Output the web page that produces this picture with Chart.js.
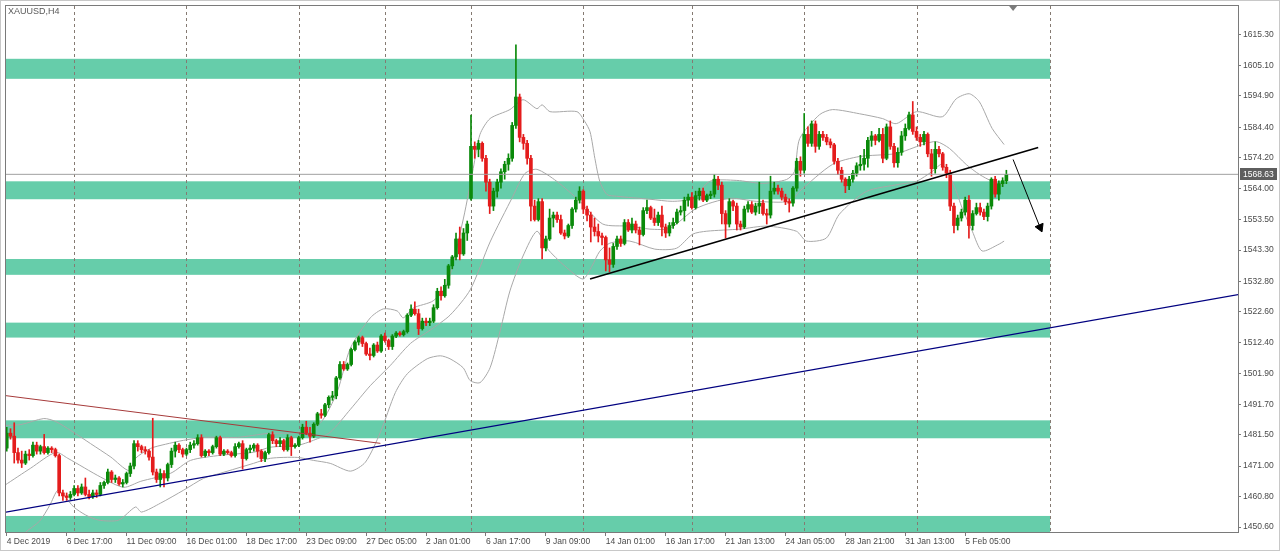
<!DOCTYPE html>
<html>
<head>
<meta charset="utf-8">
<title>XAUUSD,H4</title>
<script src="https://cdn.jsdelivr.net/npm/chart.js@4.4.1/dist/chart.umd.min.js"></script>
<style>
    html, body { margin: 0; padding: 0; background: #ffffff; overflow: hidden; }
    #chart { display: block; }
</style>
</head>
<body>
<canvas id="chart" width="1280" height="551"></canvas>
<script>
// H4 candles, one entry per bar (bar 0 = 4 Dec 2019)
const opens = [
    1477, 1482, 1481, 1475.5, 1473, 1472, 1475, 1474.5, 1478, 1476,
    1477.5, 1475.5, 1477, 1476.5, 1474.5, 1462, 1461, 1460.5, 1461.5, 1463.5,
    1462, 1464, 1461.5, 1460.8, 1462, 1461.5, 1464.5, 1465.5, 1469, 1466.5,
    1467, 1465, 1465.5, 1468.5, 1471, 1478.5, 1477.5, 1476.5, 1476, 1474,
    1469, 1466.5, 1468.5, 1467, 1471.5, 1476, 1478, 1476.5, 1475, 1476.5,
    1478, 1478.5, 1480.5, 1474.5, 1476, 1475.5, 1477.5, 1480.5, 1475, 1476,
    1475.5, 1474.5, 1477.5, 1478.5, 1473.5, 1476.5, 1477, 1478, 1476, 1473.5,
    1475.5, 1481.5, 1479.5, 1478.5, 1479.5, 1476.5, 1480.5, 1477.5, 1478, 1480.5,
    1484, 1482, 1481, 1485, 1488.5, 1488, 1491.5, 1494, 1494.5, 1500.5,
    1505, 1503.5, 1505, 1510, 1512.5, 1514, 1512, 1508.5, 1508, 1511.5,
    1509.5, 1514.5, 1513, 1511, 1514.5, 1515.5, 1515, 1516, 1521.5, 1523.5,
    1522, 1517, 1519.5, 1519, 1519.5, 1524, 1529.5, 1528, 1531.5, 1538,
    1541, 1547, 1542, 1549, 1560.6, 1578, 1577, 1579, 1574, 1566,
    1558, 1563, 1566, 1569.5, 1572, 1574, 1585, 1594.5, 1581, 1579,
    1574, 1558, 1553.5, 1559.5, 1544, 1547, 1554, 1555, 1553.5, 1549,
    1548, 1551.5, 1557, 1560, 1563, 1557, 1555, 1551, 1549.5, 1548,
    1547.5, 1540, 1538.5, 1544.5, 1547, 1545.5, 1552.5, 1550, 1552, 1550,
    1548.5, 1556.5, 1557.5, 1554, 1552.5, 1555, 1551, 1549, 1551.5, 1552.5,
    1556, 1556.5, 1560, 1561, 1557.5, 1561.5, 1563, 1560, 1561.5, 1562,
    1567, 1565, 1555.5, 1552, 1559.5, 1558, 1552, 1551, 1557, 1558.5,
    1556, 1558, 1559, 1555.5, 1555, 1563, 1564, 1563, 1561, 1559.5,
    1559, 1564, 1573, 1570, 1582, 1579, 1585.5, 1578, 1582, 1581,
    1579.5, 1578.5, 1573, 1570, 1567, 1564.8, 1567, 1569, 1571.5, 1572,
    1574, 1580, 1581.5, 1580, 1582, 1574, 1584.5, 1578, 1572.5, 1576,
    1581.5, 1584, 1588.5, 1583, 1581, 1579.5, 1582, 1575.5, 1570.5, 1577,
    1575.5, 1571, 1569, 1558, 1551.5, 1554, 1556, 1560, 1551.5, 1555.5,
    1557.5, 1556, 1554.5, 1558, 1567, 1562, 1565.5, 1566.5
];
const highs = [
    1484, 1483.5, 1485.5, 1477, 1476, 1476, 1476.5, 1479, 1479, 1478,
    1481.6, 1477.5, 1477.5, 1477, 1475, 1463, 1462, 1462.5, 1464.5, 1464.5,
    1465, 1467, 1463, 1463, 1463, 1465.5, 1466, 1470, 1469.5, 1468,
    1467.5, 1466.5, 1469, 1472, 1479.5, 1479.5, 1478, 1477.5, 1476.5, 1487,
    1470, 1470, 1469.5, 1472, 1477, 1479, 1478.5, 1477, 1477, 1479,
    1479.5, 1481.5, 1481.5, 1476.5, 1476.5, 1478, 1481, 1481, 1476.5, 1476.5,
    1476, 1478.5, 1479, 1479.5, 1477, 1478, 1478.5, 1478.5, 1476.5, 1476,
    1482, 1482.5, 1480, 1480.5, 1480, 1481.5, 1481, 1478.5, 1481, 1485,
    1486, 1484, 1485.5, 1489, 1490, 1492, 1494.5, 1496, 1501, 1506,
    1506, 1505.5, 1510.5, 1513, 1514.5, 1514.5, 1512.5, 1510.5, 1512, 1512.5,
    1515, 1515.5, 1513.5, 1515, 1516, 1516, 1516.5, 1522, 1525, 1526,
    1523.5, 1520.5, 1520.5, 1520.5, 1525, 1530.5, 1531, 1533.5, 1538.5, 1541.5,
    1549, 1551, 1550.5, 1553, 1588.5, 1579.5, 1580, 1579.5, 1575, 1567,
    1564, 1567, 1570.5, 1573, 1575.5, 1586, 1612, 1595.5, 1582, 1580,
    1575, 1560, 1560.5, 1560.5, 1548, 1557, 1556, 1556, 1555, 1550,
    1552, 1557.5, 1561, 1564.5, 1563.5, 1558, 1556, 1554, 1552, 1549,
    1548, 1544, 1545.5, 1548, 1548, 1553.5, 1553.5, 1554, 1553, 1551,
    1557.5, 1560, 1558, 1557, 1556, 1558, 1552, 1552.5, 1554, 1557,
    1558, 1561, 1562, 1562.5, 1563, 1564, 1564, 1562, 1563, 1568.6,
    1568, 1566, 1556.5, 1560.5, 1560, 1559, 1553, 1558, 1559.5, 1559.5,
    1559, 1566, 1560, 1557, 1568, 1566, 1565, 1564, 1562, 1560.5,
    1564.5, 1574, 1574.5, 1589, 1584.5, 1586.5, 1586.5, 1583, 1583, 1582,
    1580.5, 1579, 1574, 1571, 1567.5, 1568, 1570, 1572.5, 1575, 1577,
    1581, 1583, 1582, 1584, 1584, 1585.5, 1586.5, 1579, 1577.5, 1583,
    1585.5, 1589.5, 1593, 1584.5, 1582, 1583, 1582.5, 1577, 1579.5, 1578,
    1576, 1572, 1570, 1559, 1555, 1557, 1561, 1561.5, 1556.5, 1559,
    1559, 1557, 1559, 1567.5, 1568, 1566.5, 1567.5, 1570
];
const lows = [
    1476, 1480, 1472, 1472, 1470.5, 1471.5, 1473, 1474, 1475, 1475,
    1475, 1475, 1475.5, 1474, 1461, 1459.5, 1459.5, 1459.8, 1461, 1461,
    1461.5, 1461, 1460, 1460.2, 1460.5, 1461, 1463.5, 1465, 1465.5, 1465.5,
    1464.5, 1464, 1465, 1467.5, 1470, 1476, 1475.5, 1475, 1473, 1468,
    1465.5, 1464, 1464, 1466, 1470.5, 1474, 1475.5, 1474, 1474.5, 1475.5,
    1477, 1478, 1474, 1474, 1474.5, 1475, 1477, 1474.5, 1474.5, 1475,
    1474, 1474, 1477, 1470, 1473, 1475.5, 1476, 1474, 1472.5, 1472.5,
    1475, 1478.5, 1477.5, 1477.5, 1476, 1476, 1474.5, 1477, 1477.5, 1480,
    1481.5, 1479, 1480.5, 1484.5, 1487, 1487.5, 1490.5, 1493, 1493.5, 1500,
    1503, 1503, 1504.5, 1509.5, 1511.5, 1511, 1508, 1506.5, 1507.5, 1509,
    1509, 1512.5, 1510, 1510, 1514, 1514.5, 1514.5, 1515.5, 1521, 1521.5,
    1515, 1516.5, 1518, 1518, 1519, 1523.5, 1526.5, 1527.5, 1530.5, 1537,
    1540, 1540, 1541.5, 1546.5, 1560, 1574, 1574.5, 1573, 1563, 1555.5,
    1556.5, 1561, 1564, 1567, 1570, 1573, 1584, 1579.5, 1577, 1572,
    1553, 1553, 1553, 1540.3, 1543, 1546.5, 1551, 1552.5, 1548.5, 1547,
    1547.5, 1550.5, 1556, 1559, 1555.5, 1553, 1546, 1548, 1546, 1545,
    1536.3, 1536, 1537.5, 1543.5, 1544.5, 1545, 1549.5, 1549, 1549, 1545,
    1548, 1555.5, 1553.5, 1551.5, 1551.5, 1548, 1547.5, 1548, 1550.5, 1552,
    1555, 1553, 1558, 1557, 1557, 1560, 1559.5, 1559.5, 1560.5, 1561,
    1563.5, 1552, 1547.3, 1551, 1556.5, 1550, 1550, 1550.5, 1556, 1555.5,
    1555, 1555.5, 1555, 1552, 1554, 1562, 1562, 1560, 1558.5, 1556,
    1558, 1563, 1568, 1569, 1578, 1578, 1576, 1577, 1580, 1578.5,
    1577.5, 1572, 1568.5, 1566, 1562.5, 1563.5, 1566, 1568, 1570, 1570,
    1571, 1578, 1578.5, 1579.5, 1572.5, 1573.5, 1577, 1571, 1571, 1575,
    1580, 1583.5, 1582, 1580, 1578, 1578.5, 1574.5, 1568, 1569, 1574.5,
    1570, 1567.5, 1556.5, 1549, 1550, 1553, 1555, 1547.3, 1550, 1555,
    1555, 1553.5, 1553, 1557, 1561, 1560, 1564.5, 1565.5
];
const closes = [
    1482, 1481, 1475.5, 1473, 1472, 1475, 1474.5, 1478, 1476, 1477.5,
    1475.5, 1477, 1476.5, 1474.5, 1462, 1461, 1460.5, 1461.5, 1463.5, 1462,
    1464, 1461.5, 1460.8, 1462, 1461.5, 1464.5, 1465.5, 1469, 1466.5, 1467,
    1465, 1465.5, 1468.5, 1471, 1478.5, 1477.5, 1476.5, 1476, 1474, 1469,
    1466.5, 1468.5, 1467, 1471.5, 1476, 1478, 1476.5, 1475, 1476.5, 1478,
    1478.5, 1480.5, 1474.5, 1476, 1475.5, 1477.5, 1480.5, 1475, 1476, 1475.5,
    1474.5, 1477.5, 1478.5, 1473.5, 1476.5, 1477, 1478, 1476, 1473.5, 1475.5,
    1481.5, 1479.5, 1478.5, 1479.5, 1476.5, 1480.5, 1477.5, 1478, 1480.5, 1484,
    1482, 1481, 1485, 1488.5, 1488, 1491.5, 1494, 1494.5, 1500.5, 1505,
    1503.5, 1505, 1510, 1512.5, 1514, 1512, 1508.5, 1508, 1511.5, 1509.5,
    1514.5, 1513, 1511, 1514.5, 1515.5, 1515, 1516, 1521.5, 1523.5, 1522,
    1517, 1519.5, 1519, 1519.5, 1524, 1529.5, 1528, 1531.5, 1538, 1541,
    1547, 1542, 1549, 1552, 1578, 1577, 1579, 1574, 1566, 1558,
    1563, 1566, 1569.5, 1572, 1574, 1585, 1594.5, 1581, 1579, 1574,
    1558, 1553.5, 1559.5, 1544, 1547, 1554, 1555, 1553.5, 1549, 1548,
    1551.5, 1557, 1560, 1563, 1557, 1555, 1551, 1549.5, 1548, 1547.5,
    1540, 1538.5, 1544.5, 1547, 1545.5, 1552.5, 1550, 1552, 1550, 1548.5,
    1556.5, 1557.5, 1554, 1552.5, 1555, 1551, 1549, 1551.5, 1552.5, 1556,
    1556.5, 1560, 1561, 1557.5, 1561.5, 1563, 1560, 1561.5, 1562, 1567,
    1565, 1555.5, 1552, 1559.5, 1558, 1552, 1551, 1557, 1558.5, 1556,
    1558, 1559, 1555.5, 1555, 1563, 1564, 1563, 1561, 1559.5, 1559,
    1564, 1573, 1570, 1582, 1579, 1585.5, 1578, 1582, 1581, 1579.5,
    1578.5, 1573, 1570, 1567, 1564.8, 1567, 1569, 1571.5, 1572, 1574,
    1580, 1581.5, 1580, 1582, 1574, 1584.5, 1578, 1572.5, 1576, 1581.5,
    1584, 1588.5, 1583, 1581, 1579.5, 1582, 1575.5, 1570.5, 1577, 1575.5,
    1571, 1569, 1558, 1551.5, 1554, 1556, 1560, 1551.5, 1555.5, 1557.5,
    1556, 1554.5, 1558, 1567, 1562, 1565.5, 1566.5, 1568.63
];

// bottom axis labels and the bar they sit on
const timeLabels = ['4 Dec 2019', '6 Dec 17:00', '11 Dec 09:00', '16 Dec 01:00', '18 Dec 17:00',
    '23 Dec 09:00', '27 Dec 05:00', '2 Jan 01:00', '6 Jan 17:00', '9 Jan 09:00', '14 Jan 01:00',
    '16 Jan 17:00', '21 Jan 13:00', '24 Jan 05:00', '28 Jan 21:00', '31 Jan 13:00', '5 Feb 05:00'];
const labelBars = [0, 16, 32, 48, 64, 80, 96, 112, 128, 144, 160, 176, 192, 208, 224, 240, 256];

const priceTicks = [1615.30, 1605.10, 1594.90, 1584.40, 1574.20, 1564.00, 1553.50, 1543.30, 1532.80,
    1522.60, 1512.40, 1501.90, 1491.70, 1481.50, 1471.00, 1460.80, 1450.60];

// Bollinger bands, [bar, price]
const upperBand = [[-0.5, 1484.6], [3.8, 1484.9], [9.9, 1486.9], [13.1, 1485.9], [17.1, 1482.9],
    [22.4, 1478.5], [27.8, 1474], [32.6, 1469.5], [34.4, 1473.6], [38.4, 1476.9], [42.4, 1478.3],
    [47.2, 1479.6], [52.6, 1480.6], [61.6, 1480.6], [69.6, 1481.9], [77.6, 1482.3], [83.8, 1485.5],
    [88.3, 1496], [91.8, 1510.5], [97.1, 1520.6], [100.6, 1523.6], [104.3, 1522.9], [105.9, 1520.6],
    [108.6, 1523.9], [113.9, 1526.3], [117.6, 1531.9], [122, 1554], [124.6, 1570.6], [126.4, 1582],
    [129.1, 1587.3], [134.4, 1590.3], [137.9, 1593.6], [141.6, 1590.6], [143, 1591.9], [145.1, 1589.6],
    [152.3, 1589.6], [154.4, 1586.3], [155.8, 1582.9], [157.1, 1573.9], [158.4, 1566.3], [160.3, 1561.9],
    [162.9, 1561.3], [171.8, 1560.3], [177.9, 1559.6], [183.2, 1560.6], [187.8, 1566.3], [195, 1566.6],
    [201.9, 1565.6], [208.3, 1566.9], [210.4, 1569.6], [211.8, 1580.6], [217.1, 1588.6], [220.6, 1590.3],
    [227.8, 1588.9], [233.9, 1587.3], [237.6, 1585.6], [243, 1589.6], [249.9, 1587.9], [253.6, 1593.9],
    [257.1, 1595.6], [259.8, 1592.9], [263.2, 1584], [266.4, 1578.6]];
const middleBand = [[-0.5, 1464.6], [6.4, 1470.3], [13.1, 1475.6], [16.3, 1473.6], [25.1, 1467.3],
    [31.2, 1463.9], [35.8, 1465.9], [43.8, 1468.6], [49.1, 1472.9], [57.1, 1474.6], [65.9, 1475.6],
    [70.4, 1477.3], [77.6, 1477.9], [81.9, 1479.6], [86.4, 1482.3], [91.8, 1490], [97.1, 1497.9],
    [102.4, 1504.6], [107.8, 1512], [113.1, 1516.5], [118.4, 1521.5], [123.8, 1530], [129.1, 1546],
    [135.2, 1561.3], [138.4, 1568.9], [141.6, 1570.3], [146.9, 1566.3], [153.1, 1559.6], [159.2, 1552],
    [166.4, 1551.3], [171.8, 1550.3], [177.1, 1550.6], [184.3, 1557.3], [193.1, 1560.6], [200.3, 1559.6],
    [209.1, 1559.6], [211.8, 1563], [220.6, 1572], [227.8, 1574.6], [237.6, 1575.6], [244.6, 1578.6],
    [248.3, 1579.6], [251.8, 1577.3], [256.3, 1571.9], [259.8, 1568.6], [263.2, 1566.3], [266.4, 1565]];
const lowerBand = [[3.8, 1446.3], [4.8, 1448.6], [8.8, 1452.6], [11.5, 1457.9], [13.6, 1462.9],
    [15.2, 1461.3], [17.9, 1457.3], [21.1, 1454.6], [24.6, 1452.9], [29.9, 1452.9], [34.4, 1457.3],
    [36, 1455.6], [41.1, 1458.6], [47.2, 1462.9], [52.6, 1466.9], [57.1, 1468.6], [65.9, 1471.9],
    [70.4, 1473.6], [77.6, 1473.9], [81.9, 1472.9], [86.4, 1471.9], [91.8, 1469.3], [95.8, 1472.3],
    [99.8, 1482.3], [103.8, 1495.6], [107, 1501.9], [112.3, 1506.9], [115.8, 1507.9], [118.4, 1506.9],
    [121.9, 1503.9], [123.8, 1499.6], [126.4, 1498.9], [129.1, 1503.9], [131.8, 1516.3], [134.4, 1529.6],
    [137.9, 1541.3], [141.6, 1549.6], [144.3, 1543.9], [149.1, 1537.9], [153.9, 1533.6], [156.3, 1537.9],
    [158.4, 1542.9], [161.1, 1545.6], [166.4, 1546.3], [173.1, 1543.6], [178.9, 1543.9], [183.2, 1548.6],
    [187, 1549.6], [195.8, 1550.3], [203, 1551.3], [210.9, 1549.6], [213.6, 1546.3], [218.9, 1547.3],
    [222.4, 1555.3], [229.6, 1562.9], [238.4, 1565.3], [243, 1566.3], [247.2, 1569.6], [249.9, 1572],
    [253.1, 1564.6], [255.2, 1557.3], [257.9, 1549.6], [260.5, 1543], [265.1, 1545.3], [266.4, 1546.3]];

// drawn objects
const redLine = [[-0.5, 1494.6], [99.8, 1478.6]];
const navyLine = [[-0.5, 1455.5], [329, 1528.4]];
const blackLine = [[155.8, 1533.6], [275.5, 1577.6]];
const arrowLine = [[268.8, 1573.6], [276.0, 1550.9]];
const zoneTops = [1607.3, 1566.3, 1540.3, 1519.0, 1486.3, 1454.3];
const zoneBottoms = [1600.6, 1560.3, 1535.0, 1514.0, 1480.3, 1448.9];
const zoneEnd = 278.7;
const weekBars = [18, 48, 78, 101, 124, 154, 183, 213, 243];
const bidPrice = 1568.63;
const shiftMark = 268.8;

const xMin = -0.2;
const xMax = 328.87;
const yMin = 1448.93;
const yMax = 1624.97;

const FONT = "'Liberation Sans', Arial, sans-serif";
const upColor = '#0a8a0a';
const downColor = '#e41c1c';
const bandColor = '#a8a8a8';

const toPoints = arr => arr.map(p => ({x: p[0], y: p[1]}));
const candleColors = opens.map((o, i) => closes[i] >= o ? upColor : downColor);
const bodyData = opens.map((o, i) => ({x: i, y: [o, closes[i]]}));
const wickData = opens.map((o, i) => ({x: i, y: [lows[i], highs[i]]}));

const mtDecor = {
    id: 'mtDecor',
    beforeDatasetsDraw(chart) {
        const {ctx, chartArea: a, scales: {x, y}} = chart;
        ctx.save();
        ctx.beginPath();
        ctx.rect(a.left, a.top, a.right - a.left, a.bottom - a.top);
        ctx.clip();

        ctx.fillStyle = '#66cdaa';
        const xEnd = x.getPixelForValue(zoneEnd);
        zoneTops.forEach((t, i) => {
            const y1 = y.getPixelForValue(t);
            const y2 = y.getPixelForValue(zoneBottoms[i]);
            ctx.fillRect(a.left, y1, xEnd - a.left, y2 - y1);
        });

        ctx.strokeStyle = '#857a72';
        ctx.lineWidth = 1;
        ctx.setLineDash([3, 3]);
        weekBars.concat([zoneEnd]).forEach(v => {
            const px = Math.round(x.getPixelForValue(v)) + 0.5;
            ctx.beginPath();
            ctx.moveTo(px, a.top);
            ctx.lineTo(px, a.bottom);
            ctx.stroke();
        });
        ctx.restore();
    },
    afterDraw(chart) {
        const {ctx, chartArea: a, scales: {x, y}} = chart;
        ctx.save();
        // window and chart frames
        ctx.strokeStyle = '#c8c8c8';
        ctx.lineWidth = 1;
        ctx.strokeRect(0.5, 0.5, chart.width - 1, chart.height - 1);
        ctx.strokeStyle = '#7a7a7a';
        ctx.strokeRect(a.left - 0.5, a.top - 0.5, a.right - a.left + 1, a.bottom - a.top + 1);

        ctx.font = '9px ' + FONT;
        ctx.fillStyle = '#5a5a5a';
        ctx.textBaseline = 'middle';
        ctx.textAlign = 'left';
        ctx.fillText('XAUUSD,H4', 8, 12);

        // chart shift marker
        const sx = x.getPixelForValue(shiftMark);
        ctx.fillStyle = '#7a7a7a';
        ctx.beginPath();
        ctx.moveTo(sx - 4, a.top);
        ctx.lineTo(sx + 4, a.top);
        ctx.lineTo(sx, a.top + 5);
        ctx.closePath();
        ctx.fill();

        // bid price label
        const by = Math.round(y.getPixelForValue(bidPrice));
        ctx.fillStyle = '#5e5e5e';
        ctx.fillRect(a.right + 2, by - 6, 37, 12);
        ctx.fillStyle = '#ffffff';
        ctx.font = '8.5px ' + FONT;
        ctx.fillText(bidPrice.toFixed(2), a.right + 5, by + 0.5);
        ctx.restore();
    }
};

const lineSet = (points, color, width, order) => ({
    type: 'line',
    data: toPoints(points),
    borderColor: color,
    borderWidth: width,
    pointRadius: 0,
    tension: 0,
    order: order
});

const bandSet = points => Object.assign(lineSet(points, bandColor, 1, 4), {tension: 0.25});

new Chart(document.getElementById('chart'), {
    type: 'bar',
    data: {
        datasets: [
            lineSet(blackLine, '#000000', 1.6, 0),
            Object.assign(lineSet(arrowLine, '#000000', 1, 0), {
                pointRadius: [0, 5],
                pointStyle: 'triangle',
                pointRotation: 157,
                pointBackgroundColor: '#000000',
                pointBorderColor: '#000000',
                pointBorderWidth: 1
            }),
            lineSet(navyLine, '#000080', 1.2, 0),
            lineSet(redLine, '#a63a3a', 1, 0),
            lineSet([[xMin, bidPrice], [xMax, bidPrice]], '#a0a0a0', 1, 1),
            {
                data: bodyData,
                backgroundColor: candleColors,
                barThickness: 3,
                minBarLength: 1,
                grouped: false,
                order: 2
            },
            {
                data: wickData,
                backgroundColor: candleColors,
                barThickness: 1,
                grouped: false,
                order: 3
            },
            bandSet(upperBand),
            bandSet(middleBand),
            bandSet(lowerBand)
        ]
    },
    options: {
        responsive: false,
        animation: false,
        devicePixelRatio: 1,
        layout: {padding: {left: 4, top: 4, right: 0, bottom: 0}},
        events: [],
        plugins: {
            legend: {display: false},
            tooltip: {enabled: false}
        },
        scales: {
            x: {
                type: 'linear',
                min: xMin,
                max: xMax,
                offset: false,
                grid: {drawOnChartArea: false, drawTicks: true, tickLength: 4, color: '#7a7a7a', offset: false},
                border: {display: false},
                ticks: {
                    autoSkip: false,
                    maxRotation: 0,
                    minRotation: 0,
                    align: 'start',
                    padding: 1,
                    color: '#4a4a4a',
                    font: {family: FONT, size: 8.5},
                    callback: (value, index) => timeLabels[index]
                },
                afterBuildTicks: scale => {
                    scale.ticks = labelBars.map(v => ({value: v}));
                },
                afterFit: scale => {
                    scale.height = 19;
                    scale.paddingLeft = 0;
                    scale.paddingRight = 0;
                }
            },
            y: {
                position: 'right',
                min: yMin,
                max: yMax,
                grid: {drawOnChartArea: false, drawTicks: true, tickLength: 3, color: '#7a7a7a'},
                border: {display: false},
                ticks: {
                    padding: 2,
                    color: '#4a4a4a',
                    font: {family: FONT, size: 8.5},
                    callback: value => value.toFixed(2)
                },
                afterBuildTicks: scale => {
                    scale.ticks = priceTicks.map(v => ({value: v}));
                },
                afterFit: scale => {
                    scale.width = 42;
                    scale.paddingTop = 0;
                    scale.paddingBottom = 0;
                }
            }
        }
    },
    plugins: [mtDecor]
});
</script>
</body>
</html>
